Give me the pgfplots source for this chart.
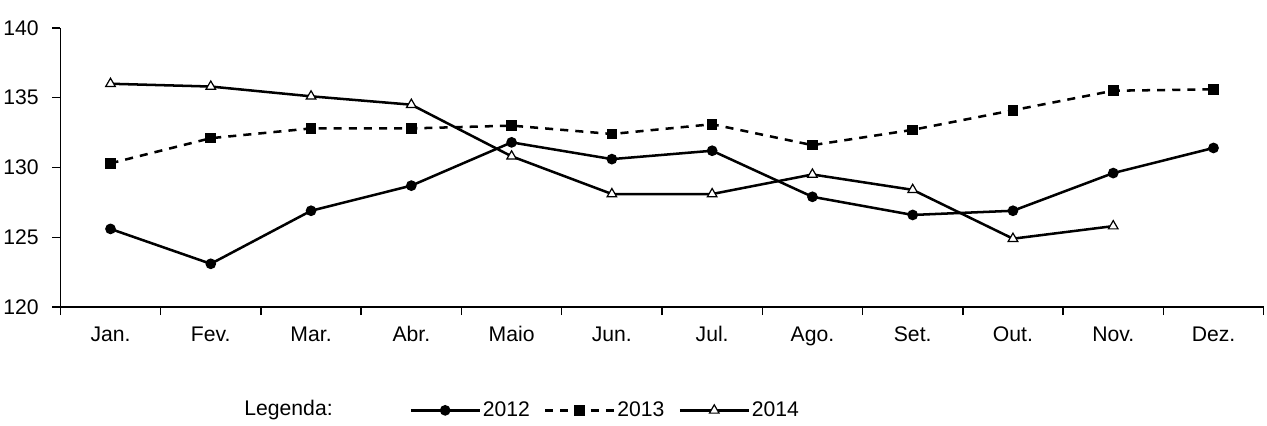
\documentclass[border=0pt]{standalone}
\usepackage{pgfplots}
\pgfplotsset{compat=1.18}
\usepackage{fontspec}
\setmainfont{Liberation Sans}
\newcommand\ff{\fontsize{21}{25}\selectfont}
\begin{document}
\begin{tikzpicture}[font=\ff]
\begin{axis}[
  scale only axis, width=1194pt, height=277pt,
  clip=false,
  xmin=-0.5, xmax=11.5, ymin=120, ymax=140,
  ytick={120,125,...,140},
  yticklabel style={xshift=-10pt},
  xtick={-0.5,0.5,...,11.5}, xticklabels={},
  extra x ticks={0,...,11},
  extra x tick labels={Jan.,Fev.,Mar.,Abr.,Maio,Jun.,Jul.,Ago.,Set.,Out.,Nov.,Dez.},
  extra x tick style={major tick length=0pt, xticklabel style={yshift=-22pt, text height=1.6ex, text depth=0pt}},
  axis x line*=bottom, axis y line*=left,
  x axis line style={-, line width=1.5pt}, y axis line style={-, line width=1.5pt},
  tick style={black, line width=1.5pt}, major tick length=8pt,
  tick align=outside,
  tick label style={font=\ff},
  /pgf/number format/assume math mode=true,
  legend columns=3,
  legend style={draw=none, at={(rel axis cs:0.29,-0.37)}, anchor=west,
    font=\ff, inner sep=0pt,
    /tikz/every even column/.append style={column sep=12pt}},
  legend image code/.code={\draw[#1, line width=2.5pt] (0,0) -- (2.4cm,0) plot coordinates {(1.2cm,0)};},
]
\addplot[black, line width=2.5pt, mark=*, mark size=4pt] coordinates {
(0,125.6)(1,123.1)(2,126.9)(3,128.7)(4,131.8)(5,130.6)(6,131.2)(7,127.9)(8,126.6)(9,126.9)(10,129.6)(11,131.4)};
\addlegendentry{2012}
\addplot[black, line width=2.5pt, dash pattern=on 8pt off 7pt, mark=square*, mark size=4pt, mark options={solid}] coordinates {
(0,130.3)(1,132.1)(2,132.8)(3,132.8)(4,133.0)(5,132.4)(6,133.1)(7,131.6)(8,132.7)(9,134.1)(10,135.5)(11,135.6)};
\addlegendentry{2013}
\addplot[black, line width=2.5pt, mark=triangle*, mark size=5.5pt, mark options={solid, fill=white, line width=1.2pt}] coordinates {
(0,136.0)(1,135.8)(2,135.1)(3,134.5)(4,130.8)(5,128.1)(6,128.1)(7,129.5)(8,128.4)(9,124.9)(10,125.8)};
\addlegendentry{2014}
\node[anchor=west, font=\ff] at (rel axis cs:0.15,-0.37) {Legenda:};
\path (rel axis cs:0,1.1) (rel axis cs:0,-0.425);
\end{axis}
\end{tikzpicture}
\end{document}
